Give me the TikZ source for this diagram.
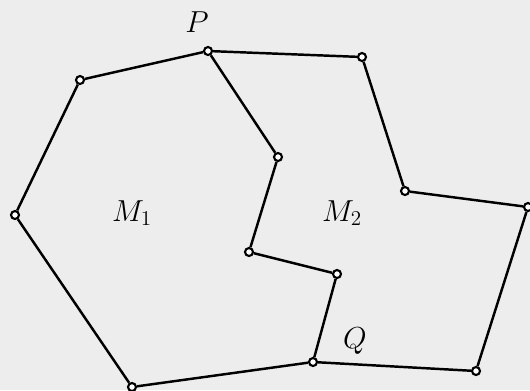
\documentclass[tikz,border=0pt]{standalone}
\definecolor{paper}{HTML}{EDEDED}
\begin{document}
\begin{tikzpicture}[
  x=0.02cm, y=-0.02cm,
  vnode/.style={circle, draw=black, fill=white, line width=1.2pt, inner sep=0pt, minimum size=1.6mm},
  edge/.style={line width=1.4pt, draw=black},
  lbl/.style={font=\LARGE}
]
  \fill[paper] (0,0) rectangle (530,390);
  \useasboundingbox (0,0) rectangle (530,390);

  % Vértices del contorno exterior
  \foreach \n/\x/\y in {p/208/51, v2/362/57, v3/405/191, v4/528/207, v5/476/371,
                        q/313/362, v7/132/387, v8/15/215, v9/80/80} {
    \node[vnode] (\n) at (\x,\y) {};
  }
  % Vértices del camino interior
  \foreach \n/\x/\y in {w1/278/157, w2/249/252, w3/337/274} {
    \node[vnode] (\n) at (\x,\y) {};
  }

  % Contorno y camino de P a Q
  \draw[edge] (p) -- (v2) -- (v3) -- (v4) -- (v5) -- (q) -- (v7) -- (v8) -- (v9) -- (p);
  \draw[edge] (p) -- (w1) -- (w2) -- (w3) -- (q);

  % Etiquetas
  \node[lbl] (lp) at (197,22) {$P$};
  \node[lbl] (lq) at (355,341) {$Q$};
  \node[lbl] (m1) at (132,213) {$M_1$};
  \node[lbl] (m2) at (342,213) {$M_2$};
\end{tikzpicture}
\end{document}
